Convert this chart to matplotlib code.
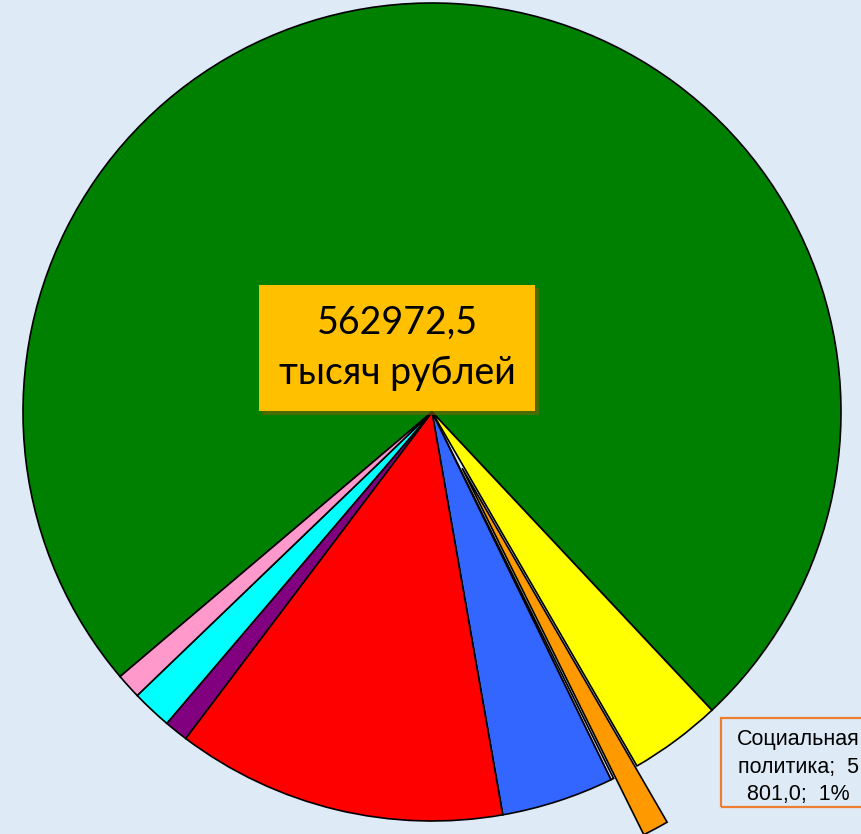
import matplotlib.pyplot as plt
import matplotlib.patheffects as pe
from matplotlib.patches import Rectangle

# budget structure, thousand rubles
total_label = "562972,5\nтысяч рублей"
sections = ["Общегосударственные вопросы", "Национальная экономика", "Социальная политика",
            "Прочие", "ЖКХ", "Образование", "Культура", "Физкультура и спорт", "Другое"]
values = [417721.5, 20500.0, 5801.0, 650.0, 25000.0, 73500.0, 5300.0, 8900.0, 5600.0]
colors = ["#008000", "#FFFF00", "#FF9900", "#CCCCFF", "#3366FF", "#FF0000",
          "#800080", "#00FFFF", "#FF99CC"]
explode = [0, 0, 0.156, 0, 0, 0, 0, 0, 0]

bg = "#DEEBF6"
W, H = 861, 834

fig = plt.figure(figsize=(W / 100, H / 100), dpi=100, facecolor=bg)
ax = fig.add_axes([0, 0, 1, 1])
ax.set_facecolor(bg)

# pie centre at pixel (432, 412), radius 409 px
r_px = 409
cx, cy = 432, 412

ax.pie(values, colors=colors, explode=explode, startangle=220.3,
       counterclock=False, radius=1.0, center=(0, 0), frame=True,
       wedgeprops=dict(edgecolor="black", linewidth=1.2))
ax.set_xlim(-cx / r_px, (W - cx) / r_px)
ax.set_ylim(-(H - cy) / r_px, cy / r_px)
ax.axis("off")

# data label for social policy (runs off the right edge like the original)
pct = round(values[2] / sum(values) * 100)
lbl = "Социальная\nполитика;  5\n801,0;  " + f"{pct}%"
ax.text((798 - cx) / r_px, -(767 - cy) / r_px, lbl, ha="center", va="center",
        fontsize=15.5, family="Liberation Sans", color="black", linespacing=1.4)
fig.patches.append(Rectangle((721 / W, (H - 807) / H), 170 / W, 89 / H,
                             transform=fig.transFigure, facecolor="none",
                             edgecolor="#ED7D31", linewidth=1.6))

# title box in the middle
t = ax.text((397 - cx) / r_px, (cy - 348) / r_px, total_label, ha="center", va="center",
            fontsize=27, family="Lato", color="black", linespacing=1.5,
            bbox=dict(boxstyle="square,pad=0.53", facecolor="#FFC000", edgecolor="none"))
t.get_bbox_patch().set_path_effects([
    pe.SimplePatchShadow(offset=(2.5, -2.5), shadow_rgbFace="#7A6000", alpha=0.6),
    pe.Normal()])

fig.savefig("out.png", dpi=100, facecolor=bg)
